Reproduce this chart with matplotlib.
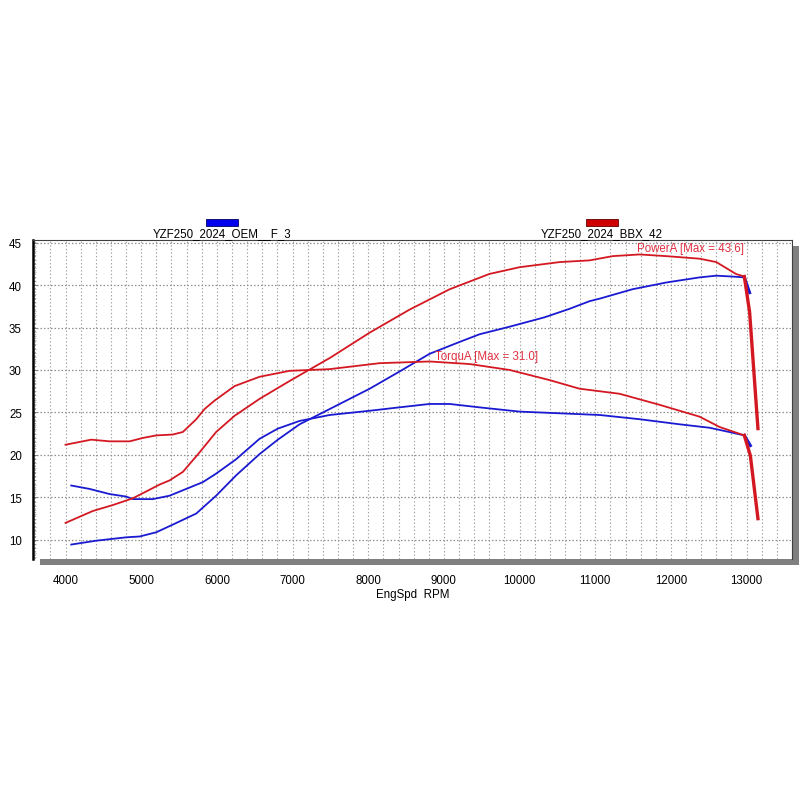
import matplotlib
matplotlib.use("Agg")
import matplotlib.pyplot as plt
from matplotlib.patches import Rectangle
from matplotlib.ticker import MultipleLocator
import numpy as np

plt.rcParams['font.family'] = ['Liberation Sans', 'DejaVu Sans']

# ---- data ----
bbx_power_rpm = [4000, 4360, 4625, 4890, 5066, 5240, 5374, 5550, 5771, 5990, 6233, 6564, 6960,
                 7490, 8020, 8545, 9075, 9600, 10000, 10530, 10925, 11230, 11585, 11940, 12380,
                 12600, 12730, 12860, 12970, 13040, 13150]
bbx_power = [12.0, 13.4, 14.1, 14.9, 15.7, 16.5, 17.0, 18.0, 20.3, 22.7, 24.6, 26.6, 28.7,
             31.4, 34.4, 37.1, 39.5, 41.3, 42.1, 42.7, 42.9, 43.4, 43.6, 43.4, 43.1,
             42.7, 42.0, 41.3, 41.0, 36.8, 23.1]

bbx_torque_rpm = [4000, 4340, 4580, 4846, 5022, 5200, 5418, 5550, 5727, 5837, 5970, 6233, 6564,
                  6960, 7490, 8150, 8810, 9340, 9870, 10400, 10790, 11320, 11850, 12380, 12640,
                  12970, 13050, 13150]
bbx_torque = [21.2, 21.8, 21.6, 21.6, 22.0, 22.3, 22.4, 22.7, 24.2, 25.4, 26.4, 28.1, 29.2,
              29.9, 30.1, 30.8, 31.0, 30.7, 30.0, 28.8, 27.8, 27.2, 25.9, 24.5, 23.3,
              22.3, 19.9, 12.5]

oem_power_rpm = [4075, 4400, 4800, 4980, 5200, 5418, 5727, 5990, 6255, 6564, 6806, 7092, 7490,
                 8020, 8410, 8810, 9207, 9470, 9870, 10330, 10660, 10925, 11060, 11490, 11940,
                 12380, 12600, 12810, 12970, 13040]
oem_power = [9.45, 9.9, 10.3, 10.4, 10.9, 11.8, 13.1, 15.2, 17.6, 20.1, 21.8, 23.6, 25.4,
             27.8, 29.8, 31.9, 33.3, 34.2, 35.1, 36.2, 37.2, 38.1, 38.4, 39.5, 40.3,
             40.9, 41.1, 41.0, 40.9, 39.1]

oem_torque_rpm = [4075, 4317, 4580, 4800, 4890, 5154, 5374, 5595, 5815, 5990, 6255, 6564, 6806,
                  7092, 7490, 8020, 8410, 8810, 9075, 9470, 10000, 10530, 11060, 11590, 12120,
                  12510, 12770, 12970, 13050]
oem_torque = [16.4, 16.0, 15.4, 15.1, 14.8, 14.8, 15.2, 16.0, 16.8, 17.8, 19.5, 21.9, 23.1,
              24.0, 24.7, 25.2, 25.6, 26.0, 26.0, 25.6, 25.1, 24.9, 24.7, 24.2, 23.6,
              23.2, 22.7, 22.3, 21.1]

run_names = ["YZF250_2024_OEM__F_3", "YZF250_2024_BBX_42"]
x_ticks = [4000, 5000, 6000, 7000, 8000, 9000, 10000, 11000, 12000, 13000]
y_ticks = [10, 15, 20, 25, 30, 35, 40, 45]

RED = '#d41822'
BLUE = '#1a1ad2'
TXT_RED = '#e03040'

W = H = 812
fig = plt.figure(figsize=(8.12, 8.12), dpi=100)

def fx(px):
    return px / W

def fy(py):
    return 1 - py / H

# plot frame
L, T, R, B = 33, 241, 792, 560
ax = fig.add_axes([fx(L), fy(B), fx(R - L), (B - T) / H])
ax.set_zorder(2)
ax.set_facecolor('white')

# drop shadow
sh = Rectangle((fx(L + 7), fy(B + 6)), fx(R - L), (B - T) / H, transform=fig.transFigure,
               facecolor='#808080', edgecolor='none', zorder=1)
fig.add_artist(sh)

ax.set_xlim(3570, 13600)
ax.set_ylim(7.75, 45.3)

# grid
for gx in np.arange(3600, 13601, 200):
    ax.axvline(gx, color='#a0a0a0', lw=0.8, ls=(0, (1.2, 2.0)), zorder=0)
for gy in y_ticks:
    ax.axhline(gy, color='#909090', lw=0.9, ls=(0, (1.2, 1.6)), zorder=0)

# curves
ax.plot(oem_power_rpm[:-1], oem_power[:-1], color=BLUE, lw=1.3, zorder=3)
ax.plot(oem_power_rpm[-2:], oem_power[-2:], color=BLUE, lw=2.2, zorder=3)
ax.plot(oem_torque_rpm[:-1], oem_torque[:-1], color=BLUE, lw=1.3, zorder=3)
ax.plot(oem_torque_rpm[-2:], oem_torque[-2:], color=BLUE, lw=2.2, zorder=3)

ax.plot(bbx_power_rpm[:-2], bbx_power[:-2], color=RED, lw=1.3, zorder=4)
ax.plot(bbx_power_rpm[-3:], bbx_power[-3:], color=RED, lw=2.4, zorder=4)
ax.plot(bbx_torque_rpm[:-2], bbx_torque[:-2], color=RED, lw=1.3, zorder=4)
ax.plot(bbx_torque_rpm[-3:], bbx_torque[-3:], color=RED, lw=2.4, zorder=4)

# annotations
pmax = max(bbx_power)
tmax = max(bbx_torque)
ax.text(12253, 44.35, f"PowerA [Max = {pmax:.1f}]", color=TXT_RED, fontsize=8.3,
        ha='center', va='center', zorder=5)
ax.text(9564, 31.65, f"TorquA [Max = {tmax:.1f}]", color=TXT_RED, fontsize=8.3,
        ha='center', va='center', zorder=5)

# axes styling
ax.set_xticks(x_ticks)
ax.set_yticks(y_ticks)
ax.yaxis.set_minor_locator(MultipleLocator(0.5))
ax.tick_params(axis='x', length=0, pad=11, labelsize=8.3)
ax.tick_params(axis='y', which='major', length=3, direction='in', pad=8, labelsize=8.3,
               color='#707070', width=0.6)
ax.tick_params(axis='y', which='minor', length=2, direction='in', width=0.4, color='#909090')
ax.spines['left'].set_linewidth(1.8)
ax.spines['left'].set_color('black')
ax.spines['top'].set_linewidth(0.8)
ax.spines['top'].set_color('#404040')
ax.spines['right'].set_linewidth(0.8)
ax.spines['right'].set_color('#404040')
ax.spines['bottom'].set_visible(False)
ax.set_xlabel("EngSpd  RPM", fontsize=8.3, labelpad=1)

# legend-like headers
fig.add_artist(Rectangle((fx(206), fy(227)), fx(32), 7 / H, transform=fig.transFigure,
                         facecolor='#0000ee', edgecolor='#000066', lw=0.6))
fig.text(fx(222), fy(237), run_names[0], fontsize=8.3, ha='center', va='baseline', zorder=10)
fig.add_artist(Rectangle((fx(586), fy(227)), fx(32), 7 / H, transform=fig.transFigure,
                         facecolor='#d00000', edgecolor='#600000', lw=0.6))
fig.text(fx(602), fy(237), run_names[1], fontsize=8.3, ha='center', va='baseline', zorder=10)

fig.savefig("out.png", dpi=100, facecolor='white')
